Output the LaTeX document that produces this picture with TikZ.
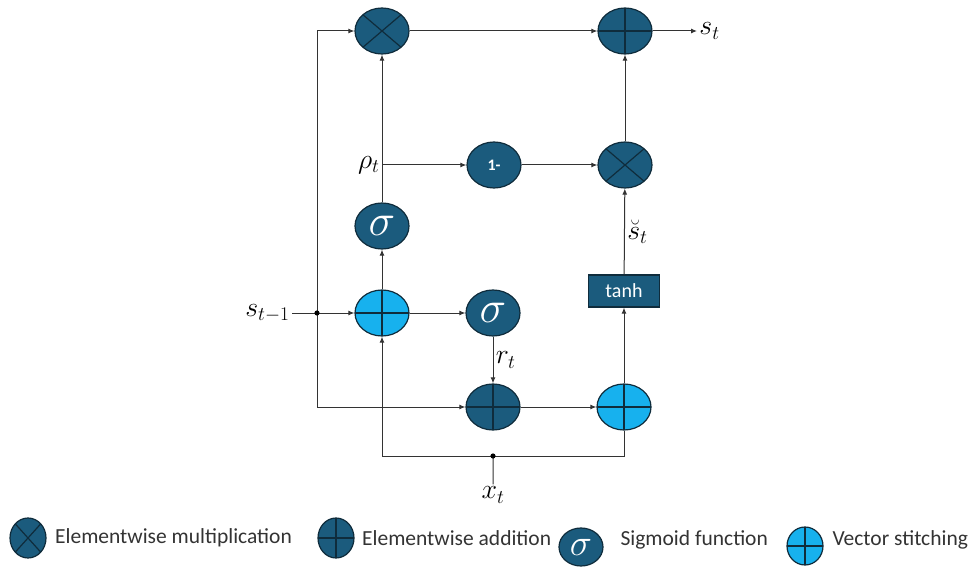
\documentclass[tikz,border=0pt]{standalone}
\usepackage{fontspec}
\setsansfont{Carlito}
\usetikzlibrary{shapes.geometric,arrows.meta,positioning}
\definecolor{gateblue}{HTML}{1B5B7D}
\definecolor{catblue}{HTML}{17B1EE}
\definecolor{rimcol}{HTML}{0F2C3C}
\definecolor{wirecol}{HTML}{333333}
\newcommand{\sigmark}[1]{\scalebox{#1}{$\sigma$}}

\begin{document}
\begin{tikzpicture}[x=1pt, y=-1pt, >={Latex[length=6pt,width=5pt]}, font=\sffamily\fontsize{21.5}{25}\selectfont,
  op/.style={ellipse, draw=rimcol, line width=1.2pt, fill=gateblue, minimum width=54pt, minimum height=46pt, inner sep=0pt, text=white},
  mulop/.style={op, path picture={\draw[rimcol, line width=1.2pt] (path picture bounding box.north west) -- (path picture bounding box.south east) (path picture bounding box.north east) -- (path picture bounding box.south west);}},
  plusop/.style={op, path picture={\draw[rimcol, line width=1.2pt] (path picture bounding box.north) -- (path picture bounding box.south) (path picture bounding box.west) -- (path picture bounding box.east);}},
  catop/.style={plusop, fill=catblue},
  sigop/.style={op, font=\fontsize{24}{24}\selectfont},
  tanhbox/.style={draw=rimcol, line width=1.2pt, fill=gateblue, text=white, minimum width=71pt, minimum height=32pt, inner sep=0pt, font=\sffamily\fontsize{20}{20}\selectfont},
  wire/.style={draw=wirecol, line width=1pt},
  lbl/.style={font=\fontsize{24}{24}\selectfont, inner sep=2pt, scale=1.12},
  legsize/.style={minimum width=36pt, minimum height=40pt}]
\useasboundingbox (0,0) rectangle (970,567);

% gates
\node[mulop] (mulA) at (382,31) {};
\node[plusop] (addS) at (625,31) {};
\node[op, font=\sffamily\bfseries\fontsize{16}{16}\selectfont] (onem) at (494,165) {1-};
\node[mulop] (mulB) at (625,165) {};
\node[sigop] (sigP) at (382,226) {\sigmark{1.8}};
\node[tanhbox] (tanh) at (624,291) {tanh};
\node[catop] (catA) at (382,313) {};
\node[sigop] (sigR) at (493,313) {\sigmark{1.8}};
\node[plusop] (addR) at (493,407) {};
\node[catop] (catB) at (624,407) {};

% inputs and outputs
\node[lbl, anchor=east] (sprev) at (292,313) {$s_{t-1}$};
\node[lbl, anchor=west] (st) at (697,31) {$s_t$};
\node[lbl] (xt) at (493,495) {$x_t$};
\coordinate (split) at (317,313);
\coordinate (xsplit) at (493,456);
\coordinate (rhobr) at (382,165);

\draw[wire,->] (sprev.east) -- (catA.west);
\draw[wire,->] (split) |- (mulA.west);
\draw[wire,->] (split) |- (addR.west);
\draw[wire,->] (catA) -- (sigP);
\draw[wire,->] (sigP) -- (mulA);
\draw[wire,->] (rhobr) -- (onem);
\node[lbl, anchor=east] at (rhobr) {$\rho_t$};
\draw[wire,->] (onem) -- (mulB);
\draw[wire,->] (mulA) -- (addS);
\draw[wire,->] (addS) -- (st);
\draw[wire,->] (mulB) -- (addS);
\draw[wire,->] (tanh) -- (mulB) node[midway, right, lbl] {$\breve{s}_t$};
\draw[wire,->] (catA) -- (sigR);
\draw[wire,->] (sigR) -- (addR) node[midway, right, lbl] {$r_t$};
\draw[wire,->] (addR) -- (catB);
\draw[wire,->] (catB) -- (tanh);
\draw[wire] (xt) -- (xsplit);
\draw[wire,->] (xsplit) -| (catA.south);
\draw[wire] (xsplit) -| (catB.south);
\fill[black] (split) circle (2.6pt) (xsplit) circle (2.6pt);

% legend
\node[mulop, legsize] (legmul) at (28,538) {};
\node[right=5pt of legmul, text=black!80] {Elementwise multiplication};
\node[plusop, legsize] (legadd) at (336,538) {};
\node[right=4pt of legadd, text=black!80] {Elementwise addition};
\node[sigop, minimum width=44pt, minimum height=38pt] (legsig) at (581,547) {\sigmark{1.5}};
\node[anchor=west, text=black!80] at (617,540) {Sigmoid function};
\node[catop, minimum width=36pt, minimum height=38pt] (legcat) at (805,546) {};
\node[anchor=west, text=black!80] at (829,540) {Vector stitching};
\end{tikzpicture}
\end{document}
